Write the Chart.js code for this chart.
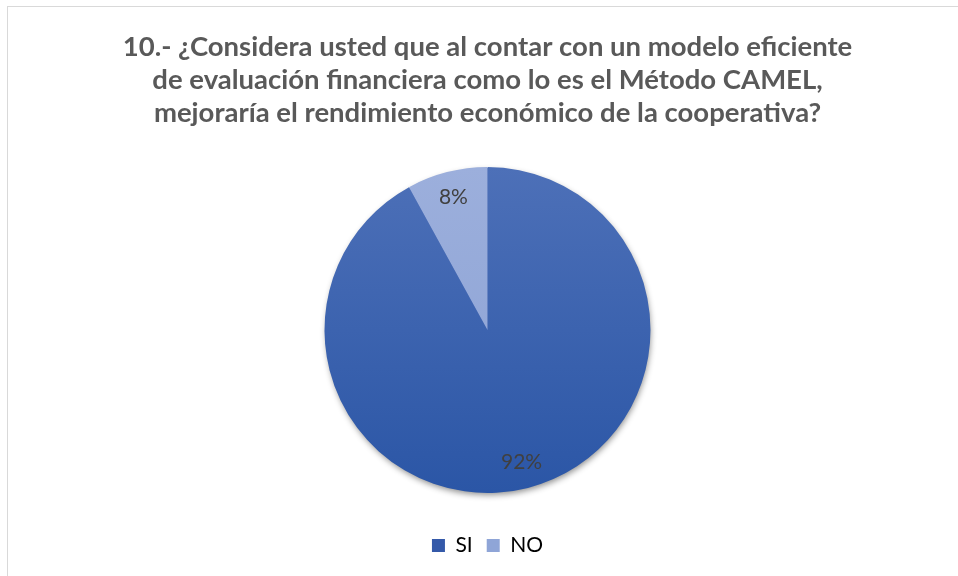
<!DOCTYPE html>
<html>
<head>
<meta charset="utf-8">
<script src="https://cdn.jsdelivr.net/npm/chart.js@4.4.0/dist/chart.umd.min.js"></script>
<style>
  html, body { margin: 0; padding: 0; background: #fff; }
  #wrap { position: relative; width: 958px; height: 576px; overflow: hidden; }
  #frame { position: absolute; left: 7px; top: 6px; width: 960px; height: 600px; border: 1px solid #d9d9d9; box-sizing: border-box; }
  canvas { position: absolute; left: 0; top: 0; }
</style>
</head>
<body>
<div id="wrap">
  <div id="frame"></div>
  <canvas id="pieChart" width="958" height="576"></canvas>
</div>
<script>
const categories = ['SI', 'NO'];
const percentValues = [92, 8];
const titleLines = [
  '10.- ¿Considera usted que al contar con un modelo eficiente',
  'de evaluación financiera como lo es el Método CAMEL,',
  'mejoraría el rendimiento económico de la cooperativa?'
];

const solidColors = ['#3459a9', '#8fa5d7'];

function sliceColor(context) {
  const chart = context.chart;
  const area = chart.chartArea;
  if (!area) return solidColors[context.dataIndex];
  const g = chart.ctx.createLinearGradient(0, 167, 0, 492);
  if (context.dataIndex === 0) {
    g.addColorStop(0, '#4d70b8');
    g.addColorStop(1, '#2b56a6');
  } else {
    g.addColorStop(0, '#9cafdc');
    g.addColorStop(1, '#8aa1d4');
  }
  return g;
}

// soft shadow under the whole pie
const shadowPlugin = {
  id: 'pieShadow',
  beforeDatasetsDraw(chart) {
    const arc = chart.getDatasetMeta(0).data[0];
    if (!arc) return;
    const ctx = chart.ctx;
    ctx.save();
    ctx.shadowColor = 'rgba(0,0,0,0.45)';
    ctx.shadowBlur = 6;
    ctx.shadowOffsetX = 1;
    ctx.shadowOffsetY = 3;
    ctx.fillStyle = '#3459a9';
    ctx.beginPath();
    ctx.arc(arc.x, arc.y, arc.outerRadius - 1, 0, Math.PI * 2);
    ctx.fill();
    ctx.restore();
  }
};

// percentage labels inside slices
const labelPlugin = {
  id: 'pctLabels',
  afterDatasetsDraw(chart) {
    const ctx = chart.ctx;
    const meta = chart.getDatasetMeta(0);
    ctx.save();
    ctx.font = '21px Lato, "Noto Sans", sans-serif';
    ctx.fillStyle = '#404040';
    ctx.textAlign = 'center';
    ctx.textBaseline = 'middle';
    meta.data.forEach((arc, i) => {
      const mid = (arc.startAngle + arc.endAngle) / 2;
      const r = arc.outerRadius * 0.84;
      const x = arc.x + Math.cos(mid) * r;
      const y = arc.y + Math.sin(mid) * r;
      ctx.fillText(percentValues[i] + '%', x, y);
    });
    ctx.restore();
  }
};

new Chart(document.getElementById('pieChart'), {
  type: 'pie',
  data: {
    labels: categories,
    datasets: [{
      data: percentValues,
      backgroundColor: sliceColor,
      borderWidth: 0,
      radius: 163
    }]
  },
  options: {
    responsive: false,
    animation: false,
    layout: {
      padding: { left: 17, right: 0, top: 0, bottom: 10 }
    },
    plugins: {
      title: {
        display: true,
        text: titleLines,
        color: '#595959',
        font: { family: 'Lato, "Noto Sans", sans-serif', size: 27.5, weight: 'bold', lineHeight: 1.2 },
        padding: { top: 31, bottom: 9 }
      },
      legend: {
        position: 'bottom',
        labels: {
          boxWidth: 13,
          boxHeight: 13,
          padding: 14,
          color: '#595959',
          font: { family: 'Lato, "Noto Sans", sans-serif', size: 21 },
          generateLabels(chart) {
            return categories.map((c, i) => ({
              text: c,
              fillStyle: solidColors[i],
              strokeStyle: solidColors[i],
              lineWidth: 0,
              index: i
            }));
          }
        }
      },
      tooltip: { enabled: false }
    }
  },
  plugins: [shadowPlugin, labelPlugin]
});
</script>
</body>
</html>
